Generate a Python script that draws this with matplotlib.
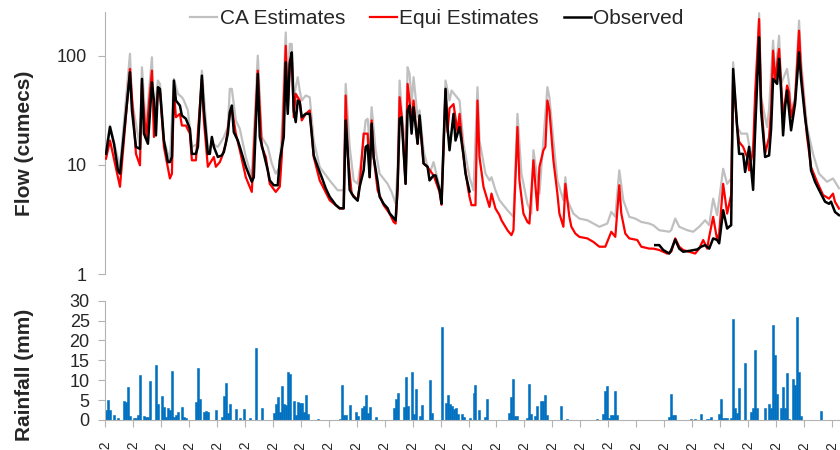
import numpy as np
import matplotlib
matplotlib.use('Agg')
import matplotlib.pyplot as plt

plt.rcParams['font.family'] = ['Liberation Sans', 'DejaVu Sans']

# ---------------- data (day index, value) ----------------
obs_days = [0, 2, 4, 6, 7, 12, 13, 15, 17, 18, 19, 21, 23, 24, 25, 26, 27, 29, 31, 32,
            33, 34, 35, 37, 38, 40, 42, 43, 45, 46, 48, 49, 51, 52, 53, 54, 56, 58, 59, 61,
            62, 63, 64, 66, 67, 70, 73, 74, 76, 77, 79, 81, 82, 84, 86, 87, 89, 90, 91, 92,
            93, 94, 95, 96, 97, 98, 100, 102, 103, 104, 106, 108, 110, 112, 115, 117, 119, 120, 121, 122,
            124, 126, 127, 129, 130, 131, 132, 133, 134, 136, 137, 139, 141, 142, 145, 146, 147, 148, 150, 151,
            152, 153, 154, 156, 157, 159, 161, 162, 164, 165, 167, 168, 170, 171, 172, 174, 175, 177, 179, 180,
            182, 183,
            275, 277, 279, 282, 283, 285, 287, 289, 292, 296, 298, 300, 302, 304, 306, 307, 309, 311, 312, 313,
            314, 316, 317, 319, 320, 322, 324, 325, 327, 328, 330, 332, 333, 334, 336, 337, 338, 339, 340, 341,
            342, 343, 345, 347, 348, 350, 352, 353, 355, 357, 360, 362, 363, 365, 367]
obs_vals = [12.6, 22.2, 15.6, 8.9, 8.3, 70.4, 31.5, 14.6, 14.0, 61.2, 19.3, 15.6, 57.0, 38.8, 18.6, 51.4, 49.6, 16.7, 10.6, 10.6,
            11.8, 59.1, 38.8, 34.9, 28.3, 26.4, 21.4, 12.6, 12.6, 14.6, 65.6, 31.5, 12.6, 12.6, 18.0, 14.6, 11.8, 12.2, 13.1, 19.3,
            30.4, 34.9, 19.9, 16.7, 14.6, 9.6, 7.0, 7.7, 68.0, 18.0, 12.6, 8.9, 7.2, 6.5, 6.5, 11.0, 18.0, 86.9, 29.3, 83.9,
            107, 31.5, 24.6, 38.8, 37.5, 27.3, 29.3, 29.3, 19.3, 12.2, 9.6, 7.7, 6.1, 5.1, 4.3, 4.0, 4.0, 25.5, 13.6, 5.9,
            5.1, 4.7, 6.3, 8.9, 14.6, 15.1, 7.7, 23.8, 11.8, 7.0, 5.1, 4.4, 4.0, 3.6, 3.1, 6.3, 26.4, 27.3, 6.7, 31.5,
            34.9, 19.3, 33.7, 15.6, 28.3, 10.3, 9.6, 7.2, 8.0, 8.0, 5.9, 4.4, 49.6, 22.2, 13.6, 29.3, 16.7, 22.2, 12.2, 8.3,
            5.7, np.nan,
            1.84, 1.84, 1.66, 1.54, 1.66, 2.07, 1.71, 1.60, 1.63, 1.68, 1.78, 1.84, 1.71, 2.12, 2.05, 1.91, 3.84, 2.61, 2.71, 2.8,
            75.5, 22.2, 12.6, 12.6, 8.6, 14.6, 5.9, 20.7, 147, 31.5, 11.8, 12.2, 21.4, 61.2, 55.1, 93.3, 47.9, 18.6, 33.7, 47.9,
            31.5, 20.7, 36.2, 107, 61.2, 27.3, 14.6, 8.9, 7.0, 5.9, 4.6, 4.4, 4.6, 3.7, 3.46]

equi_days = [0, 2, 7, 12, 15, 17, 18, 20, 23, 24, 26, 27, 29, 32, 33, 34, 35, 37, 38, 40,
             42, 43, 45, 48, 49, 51, 52, 54, 55, 57, 58, 60, 62, 63, 65, 67, 70, 73, 76, 78,
             80, 82, 85, 87, 88, 90, 91, 92, 93, 94, 95, 97, 98, 100, 102, 104, 107, 112, 117, 119,
             120, 121, 123, 126, 127, 129, 131, 132, 133, 134, 136, 139, 142, 144, 145, 146, 147, 148, 150, 151,
             152, 153, 154, 156, 157, 159, 161, 164, 167, 168, 170, 171, 172, 174, 176, 177, 179, 181, 182, 183,
             185, 186, 187, 189, 191, 192, 193, 195, 197, 198, 201, 203, 204, 206, 207, 209, 211, 212, 214, 216,
             217, 219, 220, 221, 222, 224, 226, 227, 229, 230, 232, 233, 235, 237, 241, 244, 247, 250, 252, 253,
             255, 257, 258, 260, 262, 266, 268, 272, 274, 277, 281, 283, 285, 287, 289, 292, 295, 297, 299, 301,
             302, 304, 306, 307, 309, 310, 311, 313, 314, 316, 317, 319, 321, 322, 324, 325, 327, 328, 330, 332,
             333, 334, 335, 337, 338, 339, 341, 342, 343, 345, 347, 348, 351, 353, 356, 359, 362, 364, 365, 367]
equi_vals = [11.4, 16.7, 6.3, 75.5, 12.6, 9.9, 55.1, 17.3, 72.9, 18.0, 47.9, 47.9, 14.6, 7.5, 8.3, 47.9, 27.3, 29.3, 22.9, 22.9,
             19.3, 11.0, 11.0, 61.2, 25.5, 9.6, 10.3, 11.8, 9.6, 10.6, 11.8, 15.6, 29.3, 32.6, 19.3, 13.6, 7.7, 5.65, 72.9, 14.6,
             11.8, 6.7, 5.65, 6.3, 11.8, 123, 31.5, 90, 100, 27.3, 44.7, 38.8, 25.5, 29.3, 31.5, 11.8, 7.2, 4.74, 3.98, 3.98,
             43.1, 12.6, 5.45, 4.74, 6.5, 19.3, 19.3, 7.7, 25.5, 11.8, 5.85, 4.27, 3.58, 3.0, 2.9, 5.85, 41.6, 28.3, 6.7, 55.1,
             38.8, 25.5, 38.8, 15.6, 26.0, 10.3, 9.55, 8.0, 5.65, 4.3, 47.9, 20.0, 33.0, 36.0, 20.0, 29.3, 11.8, 6.5, 5.1, 4.27,
             4.27, 38.8, 11.8, 6.3, 4.74, 4.12, 5.45, 3.98, 3.46, 3.11, 2.52, 2.27, 2.52, 22.2, 7.2, 3.58, 3.0, 2.9, 11.0, 3.84,
             9.55, 13.6, 14.6, 38.8, 31.5, 11.0, 5.45, 3.58, 2.71, 6.7, 3.34, 2.71, 2.35, 2.19, 2.12, 1.97, 1.78, 1.78, 2.19, 2.44,
             2.19, 6.5, 3.58, 2.35, 2.12, 2.05, 1.78, 1.71, 1.71, 1.66, 1.54, 1.60, 2.12, 1.78, 1.66, 1.60, 1.54, 1.71, 2.05, 1.71,
             2.19, 3.34, 2.05, 2.35, 6.7, 4.9, 3.58, 5.3, 65.6, 22.2, 16.2, 14.6, 11.8, 8.9, 13.6, 44.7, 216, 38.8, 12.6, 18.0,
             31.5, 111, 59.1, 115, 55.1, 27.3, 53.2, 46.2, 27.3, 38.8, 169, 72.9, 18.0, 9.55, 7.0, 5.3, 4.9, 5.45, 4.58, 3.98]

ca_days = [0, 2, 7, 12, 13, 17, 18, 20, 23, 24, 26, 27, 29, 32, 34, 36, 38, 39, 41, 43,
           46, 48, 50, 51, 53, 56, 58, 59, 61, 62, 63, 65, 67, 70, 73, 76, 78, 81, 83, 85,
           87, 88, 90, 91, 92, 93, 94, 96, 97, 98, 100, 102, 104, 107, 112, 116, 119, 120, 122, 124,
           126, 128, 130, 131, 132, 133, 135, 137, 141, 143, 145, 146, 147, 148, 150, 151, 152, 153, 154, 156,
           157, 159, 161, 162, 164, 167, 168, 170, 172, 173, 175, 177, 179, 182, 184, 186, 187, 190, 192, 193,
           195, 197, 201, 204, 206, 208, 211, 213, 214, 217, 219, 221, 222, 224, 226, 229, 230, 231, 234, 237,
           241, 244, 247, 251, 253, 255, 257, 259, 262, 265, 268, 272, 274, 277, 282, 283, 285, 287, 291, 294,
           297, 300, 302, 304, 306, 309, 311, 313, 314, 316, 318, 321, 323, 325, 327, 328, 331, 332, 334, 335,
           337, 338, 341, 342, 343, 345, 347, 348, 351, 354, 357, 361, 364, 367]
ca_vals = [13.6, 22.9, 9.55, 104, 38.8, 14.6, 78.2, 22.2, 96.6, 25.5, 59.1, 55.1, 16.7, 11.0, 61.2, 44.7, 41.6, 38.8, 31.5, 14.6,
           15.6, 72.9, 25.5, 13.6, 15.6, 14.6, 16.7, 18.0, 22.2, 49.6, 49.6, 25.5, 21.4, 11.8, 7.7, 100, 18.0, 14.6, 10.3, 8.3,
           9.55, 19.3, 163, 38.8, 128, 128, 41.6, 63.4, 47.9, 38.8, 43.1, 41.6, 16.7, 9.55, 7.2, 5.85, 5.85, 55.1, 14.6, 7.2,
           6.7, 11.8, 25.5, 26.4, 15.6, 33.7, 13.6, 8.3, 6.7, 5.65, 4.42, 9.55, 59.1, 31.5, 13.6, 78.2, 68.0, 36.2, 63.4, 27.3,
           31.5, 13.6, 9.55, 8.3, 10.6, 6.3, 5.45, 59.1, 38.8, 47.9, 43.1, 38.8, 15.6, 7.7, 5.85, 51.4, 16.7, 8.3, 7.2, 7.7,
           5.85, 4.74, 3.84, 3.34, 29.3, 8.3, 4.42, 3.58, 13.6, 5.45, 16.7, 51.4, 41.6, 16.7, 7.2, 4.74, 7.7, 4.74, 3.58, 3.22,
           3.11, 2.9, 2.71, 2.9, 3.71, 3.34, 8.9, 4.74, 3.34, 3.22, 3.0, 2.9, 2.8, 2.52, 2.44, 2.52, 3.22, 2.71, 2.52, 2.44,
           2.71, 3.11, 2.8, 4.9, 3.46, 9.2, 6.7, 7.5, 86.9, 22.2, 19.3, 19.3, 11.8, 19.3, 244, 41.6, 22.2, 32.6, 137, 63.4,
           152, 55.1, 75.5, 55.1, 31.5, 41.6, 209, 90.0, 22.2, 12.6, 8.3, 7.0, 7.5, 6.1]

rain_days = [0, 1, 2, 4, 6, 9, 10, 11, 12, 14, 15, 16, 17, 19, 20, 21, 22, 25, 26, 28,
             29, 30, 31, 32, 33, 34, 35, 36, 38, 39, 40, 45, 46, 47, 49, 50, 51, 55, 58, 59,
             60, 61, 62, 65, 67, 69, 72, 75, 78, 84, 85, 86, 87, 88, 89, 90, 91, 92, 94, 95,
             96, 97, 98, 99, 100, 101, 106, 117, 118, 119, 120, 122, 125, 126, 128, 129, 130, 131, 132, 135,
             144, 145, 146, 149, 150, 151, 153, 154, 155, 157, 158, 162, 163, 168, 170, 171, 172, 173, 174, 175,
             176, 178, 179, 182, 184, 185, 187, 190, 191, 202, 203, 204, 205, 206, 211, 212, 213, 215, 216, 218,
             219, 220, 221, 228, 231, 246, 249, 250, 251, 252, 253, 254, 255, 256, 282, 283, 284, 285, 293, 295,
             298, 301, 302, 303, 307, 308, 309, 310, 311, 313, 314, 315, 316, 317, 320, 323, 324, 325, 326, 330,
             332, 333, 334, 335, 336, 338, 339, 340, 341, 342, 344, 345, 346, 347, 348, 358]
rain_vals = [2.5, 5.0, 2.5, 1.2, 0.6, 4.8, 4.4, 8.4, 1.0, 0.6, 0.6, 1.3, 11.3, 0.9, 0.7, 0.7, 9.8, 13.8, 3.9, 6.0,
             3.2, 0.8, 3.1, 2.5, 12.3, 0.8, 1.2, 2.1, 3.3, 0.8, 0.4, 4.4, 13.1, 5.3, 1.9, 2.3, 1.9, 2.6, 0.8, 6.1,
             9.4, 1.7, 4.0, 2.8, 0.4, 2.8, 0.4, 18.2, 2.9, 1.7, 3.9, 5.7, 2.1, 8.6, 3.9, 3.8, 12.1, 11.6, 4.8, 1.3,
             4.6, 4.2, 4.2, 2.1, 6.3, 1.4, 0.3, 0.2, 8.9, 1.3, 1.3, 3.8, 1.9, 1.0, 2.9, 3.6, 6.3, 1.7, 3.3, 0.8,
             2.9, 5.2, 6.9, 3.3, 10.7, 3.6, 12.1, 1.4, 7.9, 1.0, 3.8, 10.0, 1.7, 23.3, 4.2, 6.4, 3.9, 3.6, 2.8, 2.9,
             1.4, 1.5, 0.7, 0.4, 6.8, 8.8, 2.5, 0.8, 5.3, 1.7, 5.7, 10.3, 1.1, 1.1, 0.6, 9.1, 1.4, 1.0, 3.6, 4.7,
             4.8, 6.2, 1.3, 3.6, 0.2, 0.2, 1.5, 7.4, 8.6, 0.6, 1.3, 1.3, 7.3, 1.3, 0.8, 6.6, 1.3, 1.3, 0.2, 0.3,
             1.4, 0.2, 0.2, 0.7, 1.4, 5.2, 0.4, 0.4, 0.4, 0.6, 25.4, 3.1, 1.7, 8.1, 14.3, 2.1, 3.1, 17.5, 3.1, 3.1,
             4.0, 2.9, 23.8, 16.4, 6.5, 3.1, 8.3, 2.9, 11.7, 0.2, 10.2, 8.8, 26.0, 12.1, 1.0, 2.3]

tick_labels = ['01/01/2012', '15/01/2012', '29/01/2012', '12/02/2012', '26/02/2012', '11/03/2012',
               '25/03/2012', '08/04/2012', '22/04/2012', '06/05/2012', '20/05/2012', '03/06/2012',
               '17/06/2012', '01/07/2012', '15/07/2012', '29/07/2012', '12/08/2012', '26/08/2012',
               '09/09/2012', '23/09/2012', '07/10/2012', '21/10/2012', '04/11/2012', '18/11/2012',
               '02/12/2012', '16/12/2012', '30/12/2012']
tick_step = 14

# ---------------- figure ----------------
fig = plt.figure(figsize=(8.4, 4.5), dpi=100)
ax1 = fig.add_axes([0.125, 0.391, 0.875, 0.582])
ax2 = fig.add_axes([0.125, 0.0667, 0.875, 0.265])

spine_c = '#b3b3b3'
text_c = '#262626'
xmin, xmax = -0.5, 367.5

l_ca, = ax1.plot(ca_days, ca_vals, color='#c0c0c0', lw=1.6, label='CA Estimates', zorder=2)
l_eq, = ax1.plot(equi_days, equi_vals, color='#ff0000', lw=1.6, label='Equi Estimates', zorder=3)
l_ob, = ax1.plot(obs_days, obs_vals, color='#000000', lw=1.8, label='Observed', zorder=4)
ax1.set_yscale('log')
ax1.set_ylim(1, 250)
ax1.set_xlim(xmin, xmax)
ax1.set_yticks([1, 10, 100])
ax1.set_yticklabels(['1', '10', '100'])
ax1.yaxis.set_minor_locator(matplotlib.ticker.NullLocator())
ax1.set_xticks([])
for s in ['top', 'right', 'bottom']:
    ax1.spines[s].set_visible(False)
ax1.spines['left'].set_color(spine_c)
ax1.tick_params(axis='y', length=5, color=spine_c, labelsize=13, labelcolor=text_c, pad=8)
ax1.set_ylabel('Flow (cumecs)', fontsize=15, fontweight='bold', color=text_c)
ax1.yaxis.set_label_coords(-0.097, 0.5)

ax2.bar(rain_days, rain_vals, width=1.0, color='#0070c0', edgecolor='#0070c0', linewidth=0.4)
ax2.set_xlim(xmin, xmax)
ax2.set_ylim(0, 30)
ax2.set_yticks(range(0, 31, 5))
ticks = [xmin + tick_step * k for k in range(len(tick_labels))]
ax2.set_xticks(ticks)
ax2.set_xticklabels(tick_labels, rotation=90, fontsize=10, color=text_c)
for s in ['top', 'right']:
    ax2.spines[s].set_visible(False)
ax2.spines['left'].set_color(spine_c)
ax2.spines['bottom'].set_color(spine_c)
ax2.tick_params(axis='y', length=5, color=spine_c, labelsize=13, labelcolor=text_c, pad=6)
ax2.tick_params(axis='x', length=5, color=spine_c, pad=10)
ax2.set_ylabel('Rainfall (mm)', fontsize=15, fontweight='bold', color=text_c)
ax2.yaxis.set_label_coords(-0.097, 0.375)

fig.legend(handles=[l_ca, l_eq, l_ob], loc='center', bbox_to_anchor=(0.52, 0.958), ncol=3,
           frameon=False, fontsize=15, handlelength=1.3, handletextpad=0.1, columnspacing=1.2,
           labelcolor=text_c)

fig.savefig('out.png', dpi=100)
